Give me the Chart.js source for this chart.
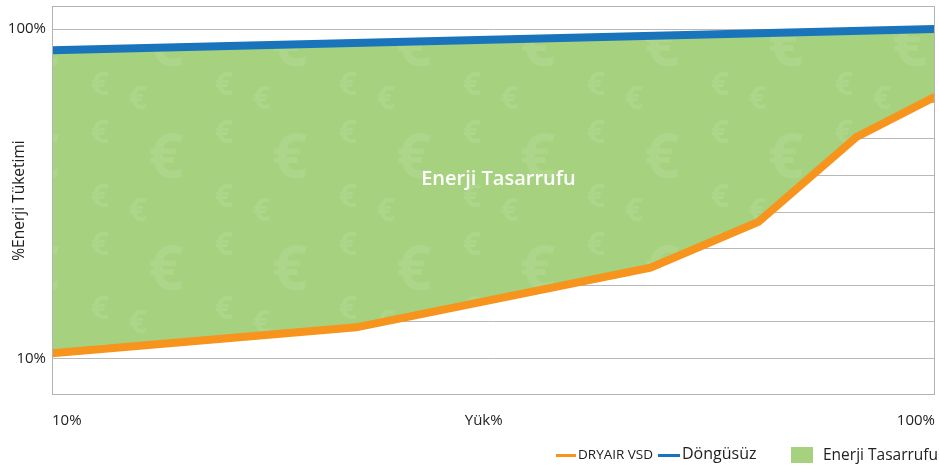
<!DOCTYPE html>
<html>
<head>
<meta charset="utf-8">
<script src="https://cdn.jsdelivr.net/npm/chart.js@4/dist/chart.umd.min.js"></script>
<style>
  html, body { margin: 0; padding: 0; background: #fff; }
  #wrap { position: relative; width: 939px; height: 472px; font-family: "Open Sans", sans-serif; color: #222; }
  #c { position: absolute; left: 0; top: 0; }
  .lg { position: absolute; white-space: nowrap; }
</style>
</head>
<body>
<div id="wrap">
  <canvas id="c" width="939" height="472"></canvas>
  <div class="lg" style="left:556px;top:454px;width:20px;height:3px;background:#f7941d"></div>
  <div class="lg" style="left:578px;top:445px;font-size:13.5px;">DRYAIR VSD</div>
  <div class="lg" style="left:658px;top:454px;width:22px;height:3px;background:#1a74bb"></div>
  <div class="lg" style="left:682px;top:442px;font-size:16px;">Döngüsüz</div>
  <div class="lg" style="left:791px;top:447px;width:22px;height:16px;background:#a6d27f"></div>
  <div class="lg" style="left:823px;top:443px;font-size:15.5px;">Enerji Tasarrufu</div>
</div>
<script>
// ---- data ----
const loadPoints = [10, 41, 71, 82, 92, 100];          // Yük %
const dryairVsd = [11.4, 18.5, 34.8, 47.3, 70.5, 81.5]; // % energy
const cycleLoad = [10, 100];
const dongusuz = [94.2, 100];
const xTickValues = [10, 54, 100];
const xTickLabels = ['10%', 'Yük%', '100%'];
const yLabelled = { 10: '10%', 100: '100%' };
const seriesNames = ['Döngüsüz', 'DRYAIR VSD'];
const areaLabel = 'Enerji Tasarrufu';

// euro watermark pattern
function makePattern() {
  const t = document.createElement('canvas');
  t.width = 124; t.height = 112;
  const g = t.getContext('2d');
  g.fillStyle = '#a6d27f';
  g.fillRect(0, 0, t.width, t.height);
  g.fillStyle = 'rgba(255,255,255,0.09)';
  g.textAlign = 'center'; g.textBaseline = 'middle';
  g.font = 'bold 62px "Open Sans", sans-serif';
  g.fillText('€', 42, 48);
  g.font = 'bold 32px "Open Sans", sans-serif';
  g.fillText('€', 100, 22);
  g.fillText('€', 100, 86);
  g.fillText('€', 14, 100);
  return g.createPattern(t, 'repeat');
}

const borderPlugin = {
  id: 'frame',
  afterDatasetsDraw(chart) {
    const { ctx, chartArea: a } = chart;
    ctx.save();
    ctx.strokeStyle = '#b3b3b3';
    ctx.lineWidth = 1;
    ctx.strokeRect(a.left + 0.5, a.top + 0.5, a.right - a.left - 1, a.bottom - a.top - 1);
    const xs = chart.scales.x, ys = chart.scales.y;
    ctx.fillStyle = '#ffffff';
    ctx.font = '600 20px "Open Sans", sans-serif';
    ctx.textAlign = 'center'; ctx.textBaseline = 'middle';
    ctx.fillText(areaLabel, xs.getPixelForValue(55.5), ys.getPixelForValue(59));
    ctx.restore();
  }
};

new Chart(document.getElementById('c'), {
  type: 'line',
  data: {
    datasets: [
      {
        label: seriesNames[0],
        data: cycleLoad.map((x, i) => ({ x, y: dongusuz[i] })),
        borderColor: '#1a74bb',
        borderWidth: 8,
        pointRadius: 0,
        fill: false,
        order: 1
      },
      {
        label: seriesNames[1],
        data: loadPoints.map((x, i) => ({ x, y: dryairVsd[i] })),
        borderColor: '#f7941d',
        borderWidth: 8,
        pointRadius: 0,
        borderJoinStyle: 'miter',
        fill: { target: 0 },
        backgroundColor: makePattern(),
        order: 2
      }
    ]
  },
  options: {
    responsive: false,
    animation: false,
    layout: { padding: { top: 6, right: 4, left: 0, bottom: 0 } },
    plugins: { legend: { display: false }, tooltip: { enabled: false } },
    scales: {
      x: {
        type: 'linear', min: 10, max: 100,
        afterBuildTicks(s) { s.ticks = xTickValues.map(v => ({ value: v })); },
        afterFit(s) { s.height = 77; s.paddingLeft = 0; s.paddingRight = 0; },
        grid: { display: false, drawTicks: false },
        border: { display: false },
        ticks: {
          align: 'inner', padding: 17, maxRotation: 0, autoSkip: false,
          color: '#222', font: { family: '"Open Sans", sans-serif', size: 15 },
          callback: (v, i) => xTickLabels[i]
        }
      },
      y: {
        type: 'linear', min: 0, max: 106.3,
        afterBuildTicks(s) {
          const t = [];
          for (let v = 10; v <= 100; v += 10) t.push({ value: v });
          s.ticks = t;
        },
        afterFit(s) { s.width = 52; s.paddingTop = 0; s.paddingBottom = 0; },
        grid: { color: '#b8b8b8', lineWidth: 1, drawTicks: false },
        border: { display: false },
        ticks: {
          padding: 6, autoSkip: false,
          color: '#222', font: { family: '"Open Sans", sans-serif', size: 15 },
          callback: v => yLabelled[v] || ''
        },
        title: {
          display: true, text: '%Enerji Tüketimi', color: '#222',
          font: { family: '"Open Sans", sans-serif', size: 15.5 },
          padding: { top: 10, bottom: 0 }
        }
      }
    }
  },
  plugins: [borderPlugin]
});
</script>
</body>
</html>
